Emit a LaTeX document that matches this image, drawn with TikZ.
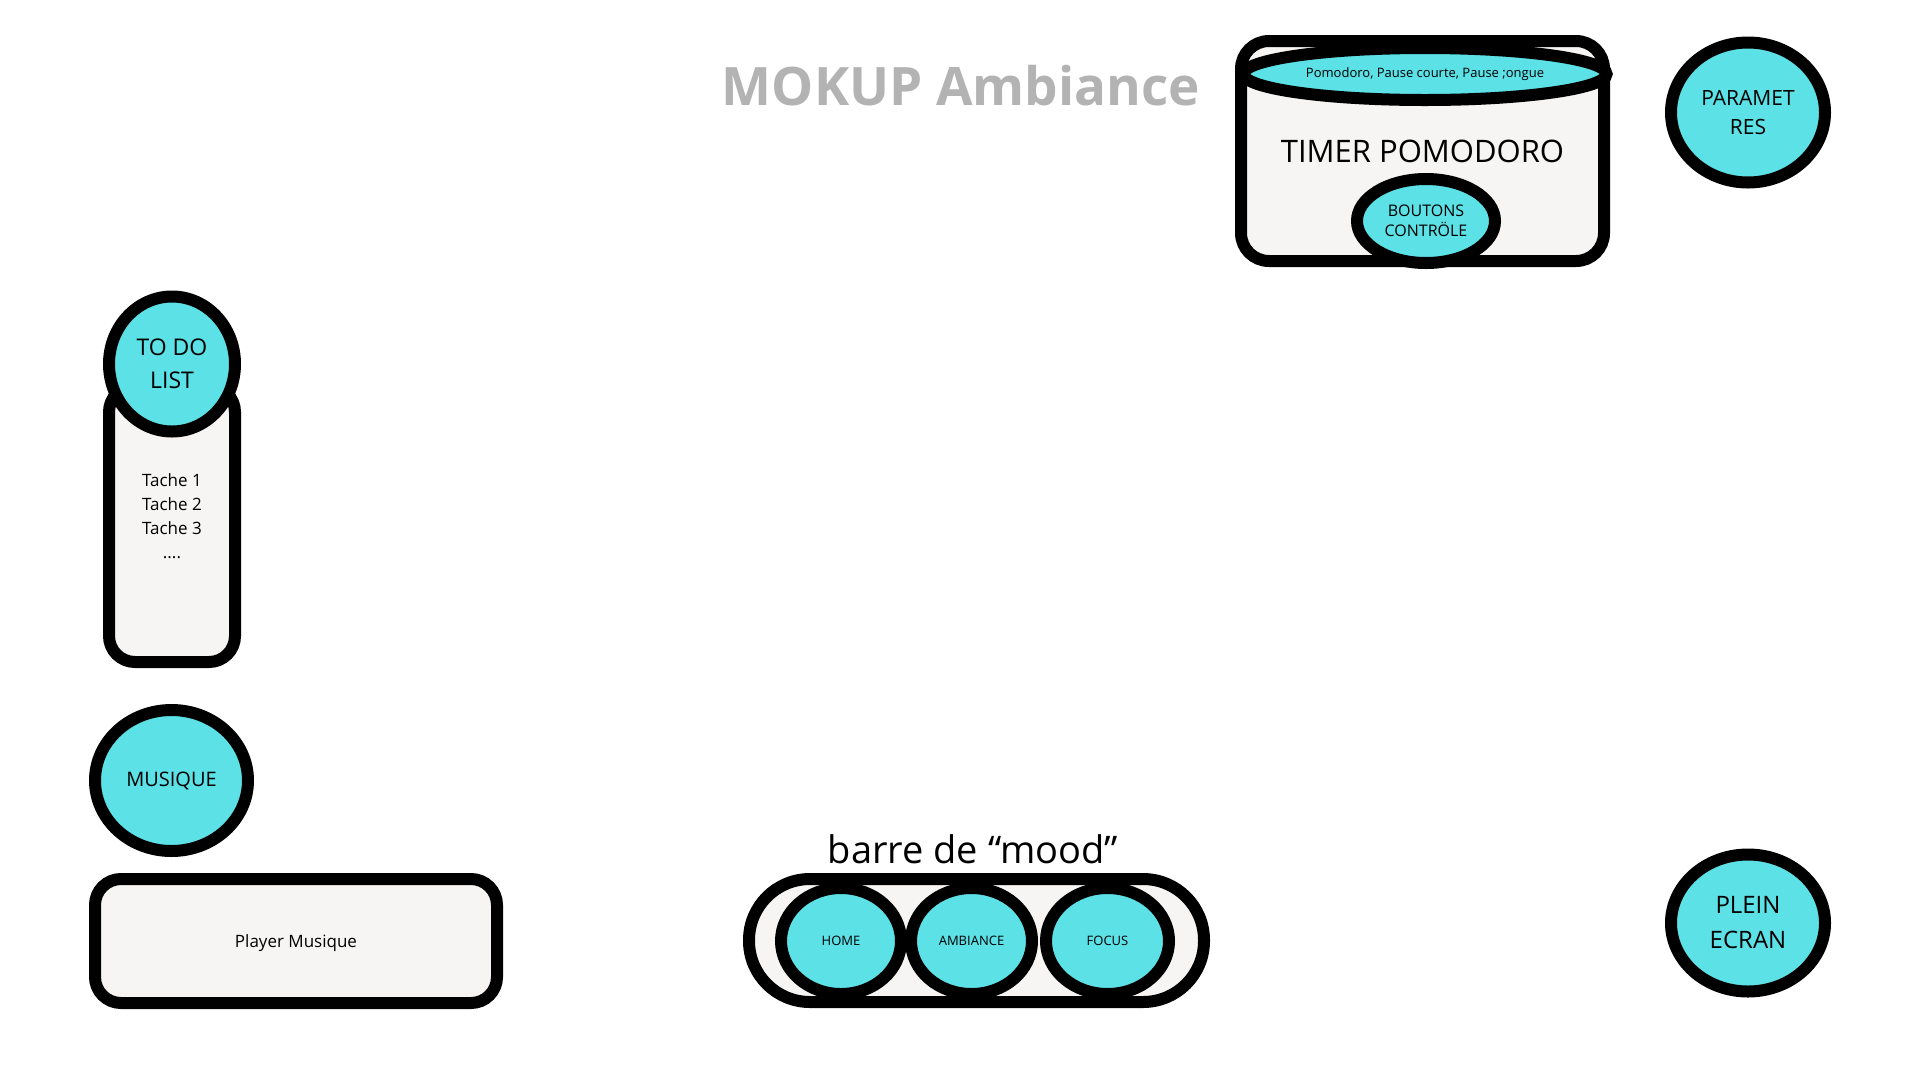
\documentclass[tikz,border=0pt]{standalone}
\usepackage{fontspec}
\setmainfont{Open Sans}
\usetikzlibrary{shapes.geometric}
\definecolor{moodcyan}{HTML}{5CE1E6}
\definecolor{boxgrey}{HTML}{F6F5F3}
\definecolor{titlegrey}{HTML}{B3B3B3}
\newcommand*{\pagew}{1920}
\newcommand*{\pageh}{1080}
\newcommand*{\lw   }{12pt}
\newcommand*{\fs}[2]{\fontsize{#1}{#2}\selectfont}
\tikzset{
    panel/.style={draw=black, line width=\lw, fill=boxgrey, rounded corners=26pt, inner sep=0pt, align=center},
    bulle/.style={ellipse, draw=black, line width=\lw, fill=moodcyan, inner sep=0pt, align=center}
}

\begin{document}
\begin{tikzpicture}[x=1pt, y=-1pt]
    \fill [white] (0,0) rectangle (\pagew,\pageh);
    \useasboundingbox (0,0) rectangle (\pagew,\pageh);
    \node [font=\bfseries\fs{53}{64}, text=titlegrey] (titre) at (961,86) {MOKUP Ambiance};
    % timer
    \node [panel, minimum width=363pt, minimum height=220pt, rounded corners=28pt, font=\fs{31}{37}] (timer) at (1422.5,151) {TIMER POMODORO};
    \node [bulle, minimum width=363pt, minimum height=52pt, font=\fs{13}{16}] (modes) at (1425,74) {Pomodoro, Pause courte, Pause ;ongue};
    \node [bulle, minimum width=138pt, minimum height=84pt, font=\fs{16}{20}] (boutons) at (1426,221) {BOUTONS\\CONTRÖLE};
    \node [bulle, minimum width=154pt, minimum height=140pt, font=\fs{21}{29}] (params) at (1748,112.5) {PARAMET\\RES};
    % todo
    \node [panel, minimum width=126pt, minimum height=276pt, font=\fs{17}{24}, text depth=15pt] (taches) at (172,524) {Tache 1\\Tache 2\\Tache 3\\....};
    \node [bulle, minimum width=126pt, minimum height=135pt, font=\fs{23}{33}] (todo) at (172,364) {TO DO\\LIST};
    % musique
    \node [bulle, minimum width=153pt, minimum height=141pt, font=\fs{20}{24}] (musique) at (171.5,780.5) {MUSIQUE};
    \node [panel, minimum width=402pt, minimum height=124pt, font=\fs{17}{20}, text height=17.4pt, text depth=4pt] (player) at (296,941) {Player Musique};
    % mood
    \node [anchor=base, font=\fs{38}{45}] (moodtitre) at (973,863) {barre de “mood”};
    \node [panel, minimum width=455pt, minimum height=123pt, rounded corners=61pt] (barre) at (976.5,940.5) {};
    \node [bulle, minimum width=120pt, minimum height=106pt, font=\fs{13}{16}] (home) at (841,941) {HOME};
    \node [bulle, minimum width=121pt, minimum height=106pt, font=\fs{13}{16}] (ambiance) at (971.5,941) {AMBIANCE};
    \node [bulle, minimum width=123pt, minimum height=106pt, font=\fs{13}{16}] (focus) at (1107.5,941) {FOCUS};
    % plein ecran
    \node [bulle, minimum width=154pt, minimum height=137pt, font=\fs{24}{35}] (plein) at (1748,923) {PLEIN\\ECRAN};
\end{tikzpicture}
\end{document}
